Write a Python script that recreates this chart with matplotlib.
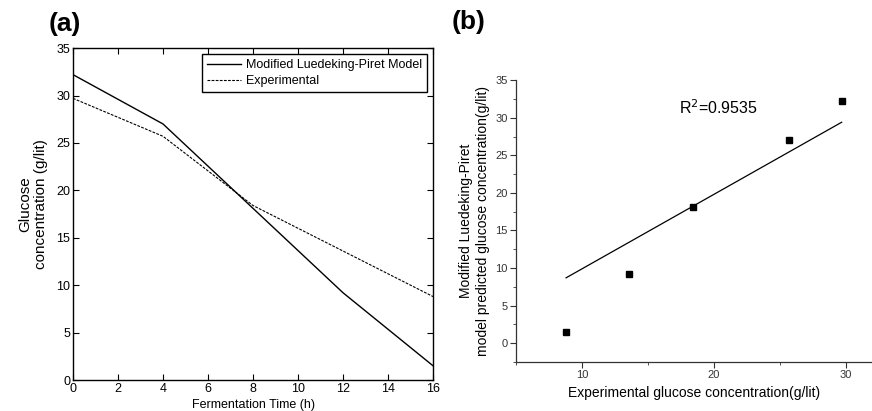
import matplotlib.pyplot as plt
from matplotlib.ticker import MultipleLocator

plt.rcParams['font.family'] = ['Liberation Sans', 'DejaVu Sans']

# fermentation time course
time_h = [0, 4, 8, 12, 16]
model_glucose = [32.2, 27.0, 18.1, 9.2, 1.5]
exp_glucose = [29.7, 25.7, 18.4, 13.6, 8.8]

# parity line drawn in panel (b)
fit_x = [8.8, 29.7]
fit_y = [8.7, 29.4]
r2_label = 'R$^2$=0.9535'

fig = plt.figure(figsize=(8.72, 4.11), dpi=100)

# ---- panel (a)
ax1 = fig.add_axes([0.0837, 0.0754, 0.4129, 0.8076])
ax1.plot(time_h, model_glucose, color='black', lw=1.0, label='Modified Luedeking-Piret Model')
ax1.plot(time_h, exp_glucose, color='black', lw=0.8, ls=(0, (2.5, 1.2)), label='Experimental')
ax1.set_xlim(0, 16)
ax1.set_ylim(0, 35)
ax1.set_xticks(range(0, 17, 2))
ax1.set_yticks(range(0, 36, 5))
ax1.tick_params(direction='in', top=True, right=True, labelsize=9, length=4, pad=2)
for s in ax1.spines.values():
    s.set_linewidth(1.0)
ax1.set_xlabel('Fermentation Time (h)', fontsize=9)
ax1.xaxis.set_label_coords(0.5, -0.057)
ax1.set_ylabel('Glucose\nconcentration (g/lit)', fontsize=11)
ax1.yaxis.set_label_coords(-0.069, 0.53)
leg = ax1.legend(loc='upper right', bbox_to_anchor=(0.983, 0.982), borderaxespad=0,
                 fontsize=9, frameon=True, fancybox=False, edgecolor='black', framealpha=1,
                 handlelength=2.7, borderpad=0.4, labelspacing=0.35, handletextpad=0.4)
leg.get_frame().set_linewidth(1.0)
fig.text(0.056, 0.972, '(a)', fontsize=19, fontweight='bold', va='top')

# ---- panel (b)
ax2 = fig.add_axes([0.5917, 0.1192, 0.4083, 0.6858])
ax2.plot(exp_glucose, model_glucose, 's', color='black', ms=5)
ax2.plot(fit_x, fit_y, color='black', lw=0.9)
ax2.text(17.4, 31.3, r2_label, fontsize=11.5, va='center')
ax2.set_xlim(5, 32)
ax2.set_ylim(-2.5, 35)
ax2.set_xticks([10, 20, 30])
ax2.xaxis.set_minor_locator(MultipleLocator(5))
ax2.set_yticks(range(0, 36, 5))
ax2.yaxis.set_minor_locator(MultipleLocator(2.5))
ax2.spines['top'].set_visible(False)
ax2.spines['right'].set_visible(False)
ax2.spines['left'].set_bounds(-2.5, 35)
for s in ('left', 'bottom'):
    ax2.spines[s].set_linewidth(0.9)
    ax2.spines[s].set_color('#333333')
ax2.tick_params(which='major', direction='out', length=4, labelsize=8, colors='#333333', pad=2)
ax2.tick_params(which='minor', direction='out', length=2.5, colors='#333333')
ax2.set_xlabel('Experimental glucose concentration(g/lit)', fontsize=10, labelpad=4)
ax2.set_ylabel('Modified Luedeking-Piret\nmodel predicted glucose concentration(g/lit)',
               fontsize=10, labelpad=4)
fig.text(0.518, 0.975, '(b)', fontsize=19, fontweight='bold', va='top')

fig.savefig('out.png', dpi=100)
